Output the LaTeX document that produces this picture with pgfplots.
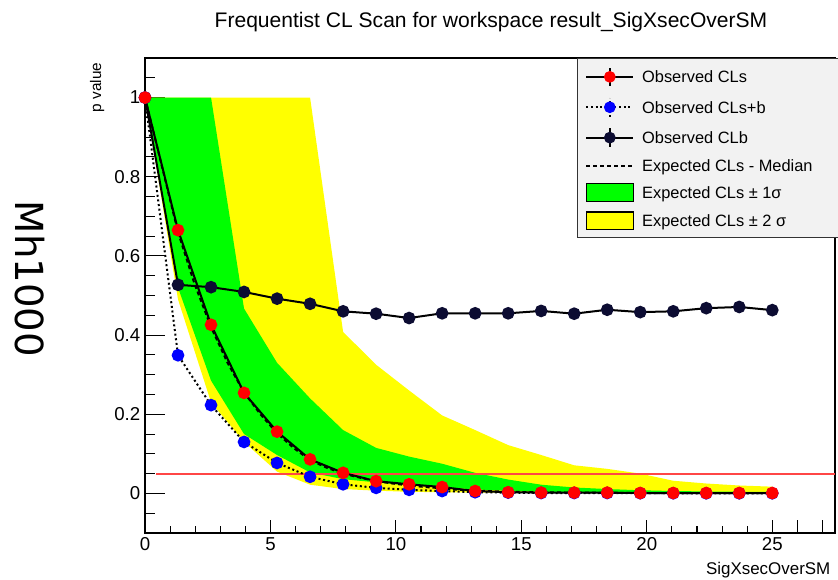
\documentclass[border=0pt]{standalone}
\usepackage{fontspec}
\setmainfont{Liberation Sans}
\newfontfamily\bigfont{DejaVu Sans}
\usepackage{pgfplots}
\pgfplotsset{compat=1.18}

\definecolor{bandgreen}{RGB}{0,255,0}
\definecolor{bandyellow}{RGB}{255,255,0}
\definecolor{clsred}{RGB}{255,0,0}
\definecolor{clsbblue}{RGB}{0,0,255}
\definecolor{clbnavy}{RGB}{12,12,50}
\definecolor{legbg}{RGB}{242,242,242}

\newcommand{\legtext}[1]{\makebox[142pt][l]{\rule[-1.6pt]{0pt}{12pt}#1}}

\begin{document}
\begin{tikzpicture}[x=0.75pt,y=0.75pt]
\useasboundingbox (0,0) rectangle (838,580);

\begin{axis}[
    at={(108.75pt,35.25pt)}, anchor=south west,
    scale only axis,
    width=517.5pt, height=356.25pt,
    xmin=0, xmax=27.5,
    ymin=-0.1, ymax=1.1,
    xtick={0,5,10,15,20,25},
    ytick={0,0.2,0.4,0.6,0.8,1},
    minor x tick num=4,
    minor y tick num=3,
    extra x ticks={26,27},
    extra x tick labels={},
    extra y ticks={-0.05,1.05},
    extra y tick labels={},
    tick align=inside,
    tick pos=left,
    major tick length=15pt,
    minor tick length=7.5pt,
    xtick style={/pgfplots/major tick length=9.5pt, /pgfplots/minor tick length=5pt},
    extra x tick style={/pgfplots/major tick length=5pt},
    extra y tick style={/pgfplots/major tick length=7.5pt},
    every tick/.style={black, line width=0.8pt},
    axis line style={black, line width=0.9pt},
    tick label style={font=\fontsize{14}{16}\selectfont},
    /pgf/number format/assume math mode=true,
    clip=false,
    legend cell align=left,
    legend style={
        at={(0.626,1.0)}, anchor=north west,
        fill=legbg, draw=black!80, line width=0.8pt,
        font=\fontsize{12.3}{14}\selectfont,
        inner xsep=6pt, inner ysep=6pt,
        row sep=7.3pt, column sep=6pt,
        nodes={inner sep=0pt},
    },
]

% legend entries, in the order of the reference
\addlegendimage{legend image code/.code={
    \draw[black, line width=1.5pt] (0pt,0pt) -- (35pt,0pt);
    \draw[black, line width=1.5pt] (17.5pt,-7pt) -- (17.5pt,7pt);
    \fill[clsred] (17.5pt,0pt) circle (4pt);}}
\addlegendentry{\legtext{Observed CLs}}
\addlegendimage{legend image code/.code={
    \draw[black, line width=1.5pt, dash pattern=on 1.5pt off 2pt] (0pt,0pt) -- (35pt,0pt);
    \draw[black, line width=1.5pt, dash pattern=on 1.5pt off 2pt] (17.5pt,-7pt) -- (17.5pt,7pt);
    \fill[clsbblue] (17.5pt,0pt) circle (4pt);}}
\addlegendentry{\legtext{Observed CLs+b}}
\addlegendimage{legend image code/.code={
    \draw[black, line width=1.5pt] (0pt,0pt) -- (35pt,0pt);
    \draw[black, line width=1.5pt] (17.5pt,-7pt) -- (17.5pt,7pt);
    \fill[clbnavy] (17.5pt,0pt) circle (4pt);}}
\addlegendentry{\legtext{Observed CLb}}
\addlegendimage{legend image code/.code={
    \draw[black, line width=1.5pt, dash pattern=on 3pt off 2.2pt] (0pt,0pt) -- (35pt,0pt);}}
\addlegendentry{\legtext{Expected CLs - Median}}
\addlegendimage{legend image code/.code={
    \draw[fill=bandgreen, draw=black, line width=0.8pt] (0pt,-6.5pt) rectangle (35pt,6.5pt);}}
\addlegendentry{\legtext{Expected CLs ± 1σ}}
\addlegendimage{legend image code/.code={
    \draw[fill=bandyellow, draw=black, line width=0.8pt] (0pt,-6.5pt) rectangle (35pt,6.5pt);}}
\addlegendentry{\legtext{Expected CLs ± 2 σ}}

% +-2 sigma band (upper edge, then lower edge back)
\addplot[fill=bandyellow, draw=none, forget plot] coordinates {
    (0,1) (1.316,1) (2.632,1) (3.947,1) (5.263,1) (6.579,1)
    (7.895,0.408) (9.211,0.325) (10.526,0.26) (11.842,0.197) (13.158,0.16)
    (14.474,0.122) (15.789,0.097) (17.105,0.071) (18.421,0.062) (19.737,0.05)
    (21.053,0.032) (22.368,0.025) (23.684,0.02) (25,0.017)
    (25,0.0005) (23.684,0.0005) (22.368,0.0006) (21.053,0.0007) (19.737,0.0008)
    (18.421,0.001) (17.105,0.001) (15.789,0.0012) (14.474,0.0015) (13.158,0.002)
    (11.842,0.003) (10.526,0.004) (9.211,0.007) (7.895,0.011) (6.579,0.022)
    (5.263,0.055) (3.947,0.13) (2.632,0.23) (1.316,0.49) (0,1)
} -- cycle;

% +-1 sigma band
\addplot[fill=bandgreen, draw=none, forget plot] coordinates {
    (0,1) (1.316,1) (2.632,1) (3.947,0.467) (5.263,0.33) (6.579,0.24)
    (7.895,0.16) (9.211,0.115) (10.526,0.093) (11.842,0.075) (13.158,0.052)
    (14.474,0.035) (15.789,0.022) (17.105,0.015) (18.421,0.011) (19.737,0.008)
    (21.053,0.006) (22.368,0.005) (23.684,0.004) (25,0.004)
    (25,0.001) (23.684,0.001) (22.368,0.001) (21.053,0.0012) (19.737,0.0015)
    (18.421,0.002) (17.105,0.003) (15.789,0.004) (14.474,0.007) (13.158,0.01)
    (11.842,0.016) (10.526,0.02) (9.211,0.028) (7.895,0.036) (6.579,0.053)
    (5.263,0.097) (3.947,0.15) (2.632,0.285) (1.316,0.52) (0,1)
} -- cycle;

% 95% CL line
\addplot[draw={rgb,255:red,255;green,70;blue,70}, line width=1.5pt, mark=none, forget plot]
    coordinates {(0.44,0.05) (27.5,0.05)};

% expected CLs median
\addplot[black, line width=1.5pt, dash pattern=on 3pt off 2.2pt, forget plot] coordinates {
    (0,1) (0.66,0.83) (1.316,0.66) (1.97,0.53) (2.632,0.42) (3.29,0.33)
    (3.947,0.255) (4.6,0.2) (5.263,0.152) (5.92,0.115) (6.579,0.084)
    (7.24,0.065) (7.895,0.05) (8.55,0.04) (9.211,0.031) (9.87,0.025)
    (10.526,0.02) (11.18,0.016) (11.842,0.013) (12.5,0.009) (13.158,0.007)
    (14.474,0.004) (15.789,0.003) (17.105,0.002) (18.421,0.0015) (19.737,0.001)
    (25,0.001)
};

% observed CLb
\addplot[black, line width=1.5pt, mark=*, mark size=4pt,
    mark options={fill=clbnavy, draw=clbnavy}, forget plot] coordinates {
    (0,1) (1.316,0.527) (2.632,0.521) (3.947,0.509) (5.263,0.492) (6.579,0.479)
    (7.895,0.46) (9.211,0.454) (10.526,0.443) (11.842,0.455) (13.158,0.455)
    (14.474,0.455) (15.789,0.461) (17.105,0.454) (18.421,0.464) (19.737,0.458)
    (21.053,0.46) (22.368,0.468) (23.684,0.471) (25,0.463)
};

% observed CLs+b
\addplot[black, line width=1.5pt, dash pattern=on 1.5pt off 2pt, mark=*, mark size=4pt,
    mark options={fill=clsbblue, draw=clsbblue, solid}, forget plot] coordinates {
    (0,1) (1.316,0.349) (2.632,0.223) (3.947,0.13) (5.263,0.077) (6.579,0.042)
    (7.895,0.023) (9.211,0.014) (10.526,0.009) (11.842,0.006) (13.158,0.003)
    (14.474,0.002) (15.789,0.001) (17.105,0.001) (18.421,0.001) (19.737,0.0005)
    (21.053,0.0004) (22.368,0.0003) (23.684,0.0003) (25,0.0003)
};

% observed CLs
\addplot[black, line width=1.5pt, mark=*, mark size=4pt,
    mark options={fill=clsred, draw=clsred}, forget plot] coordinates {
    (0,1) (1.316,0.665) (2.632,0.426) (3.947,0.254) (5.263,0.156) (6.579,0.086)
    (7.895,0.052) (9.211,0.031) (10.526,0.023) (11.842,0.016) (13.158,0.006)
    (14.474,0.003) (15.789,0.002) (17.105,0.002) (18.421,0.002) (19.737,0.001)
    (21.053,0.001) (22.368,0.001) (23.684,0.001) (25,0.001)
};
\end{axis}

% title, axis labels and the mass tag (pixel coordinates)
\node[font=\fontsize{15.8}{18}\selectfont, anchor=base] at (491,552)
    {Frequentist CL Scan for workspace result\_SigXsecOverSM};
\node[font=\fontsize{11.5}{13}\selectfont, rotate=90, anchor=base east] at (101,522) {p value};
\node[font=\fontsize{12.7}{15}\selectfont, anchor=base east] at (835,5.5) {SigXsecOverSM};
\node[font=\bigfont\fontsize{29}{34}\selectfont, rotate=-90] at (30,301) {Mh1000};
\end{tikzpicture}
\end{document}
